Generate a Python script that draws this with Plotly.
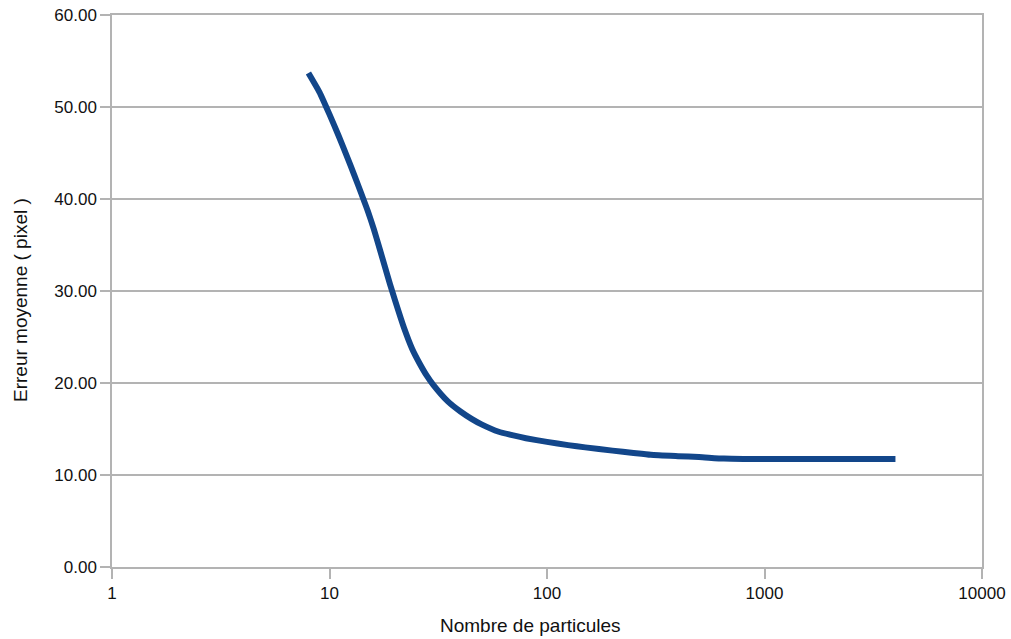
import plotly.graph_objects as go

# Nombre de particules (x) and erreur moyenne en pixels (y)
particules = [8, 9, 10, 11, 12, 13, 14, 15, 16, 17, 18, 19, 20, 22, 24, 26, 28, 30,
              35, 40, 45, 50, 60, 70, 80, 100, 125, 150, 200, 250, 300, 400, 500,
              650, 800, 1000, 1500, 2000, 3000, 4000]
erreur = [53.7, 51.6, 49.2, 46.9, 44.7, 42.6, 40.6, 38.7, 36.7, 34.6, 32.6, 30.7,
          29.0, 26.0, 23.7, 22.1, 20.8, 19.8, 18.0, 16.9, 16.1, 15.5, 14.7, 14.3,
          14.0, 13.6, 13.25, 13.0, 12.65, 12.4, 12.2, 12.05, 11.95, 11.78, 11.75,
          11.75, 11.75, 11.75, 11.75, 11.75]

x_ticks = [1, 10, 100, 1000, 10000]
x_tick_labels = ["1", "10", "100", "1000", "10000"]
y_ticks = [0, 10, 20, 30, 40, 50, 60]

FONT = "Liberation Sans, Arial, sans-serif"
GRID = "#b3b3b3"
TXT = "#111111"

L, R, T, B = 112, 29, 15, 72
PW, PH = 1011 - L - R, 639 - T - B

fig = go.Figure()
fig.add_trace(go.Scatter(
    x=particules, y=erreur, mode="lines",
    line=dict(color="#12468a", width=6, shape="spline", smoothing=0.5),
    showlegend=False, hoverinfo="skip",
))

fig.update_layout(
    width=1011, height=639,
    margin=dict(l=L, r=R, t=T, b=B),
    paper_bgcolor="white", plot_bgcolor="white",
    font=dict(family=FONT, size=17, color=TXT),
    xaxis=dict(
        type="log", range=[0, 4], automargin=False,
        tickvals=x_ticks, ticktext=x_tick_labels,
        showgrid=False, zeroline=False,
        showline=True, linecolor=GRID, linewidth=1.5, mirror=True,
        ticks="outside", ticklen=10, tickwidth=1.5, tickcolor=GRID,
        tickfont=dict(family=FONT, size=17, color=TXT),
    ),
    yaxis=dict(
        range=[0, 60], tickvals=y_ticks, tickformat=".2f", automargin=False,
        showgrid=True, gridcolor=GRID, gridwidth=1.5, zeroline=False,
        showline=True, linecolor=GRID, linewidth=1.5, mirror=True,
        ticks="outside", ticklen=10, tickwidth=1.5, tickcolor=GRID,
        tickfont=dict(family=FONT, size=17, color=TXT),
    ),
    annotations=[
        dict(text="Nombre de particules", xref="paper", yref="paper",
             x=(530 - L) / PW, y=-(625 - (T + PH)) / PH, xanchor="center", yanchor="middle",
             showarrow=False, font=dict(family=FONT, size=19, color=TXT)),
        dict(text="Erreur moyenne ( pixel )", xref="paper", yref="paper",
             x=-(L - 20) / PW, y=(T + PH - 300) / PH, xanchor="center", yanchor="middle",
             textangle=-90, showarrow=False,
             font=dict(family=FONT, size=19, color=TXT)),
    ],
)

fig.write_html("out.html", config={"displayModeBar": False},
               post_script="document.body.style.margin='0';document.body.style.overflow='hidden';")
